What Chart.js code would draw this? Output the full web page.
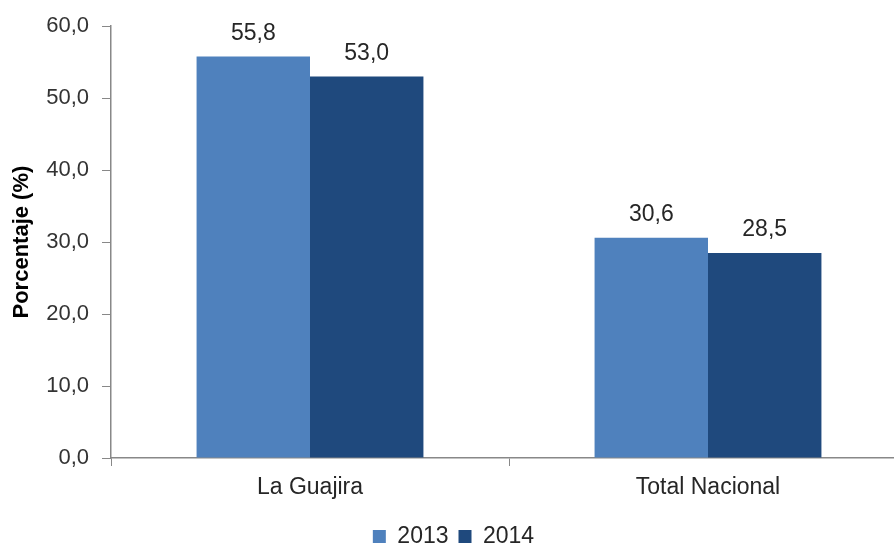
<!DOCTYPE html>
<html>
<head>
<meta charset="utf-8">
<script src="https://cdn.jsdelivr.net/npm/chart.js@4"></script>
<style>
  html, body { margin: 0; padding: 0; background: #fff; overflow: hidden; }
  #wrap { width: 910px; height: 544px; }
</style>
</head>
<body>
<div id="wrap"><canvas id="chart"></canvas></div>
<script>
const categories = ['La Guajira', 'Total Nacional'];
const years = ['2013', '2014'];
const values2013 = [55.8, 30.6];
const values2014 = [53.0, 28.5];
const yTicks = [0, 10, 20, 30, 40, 50, 60];

const fmt = v => v.toFixed(1).replace('.', ',');

// draws the value above each bar
const barLabels = {
  id: 'barLabels',
  afterDatasetsDraw(chart) {
    const ctx = chart.ctx;
    ctx.save();
    ctx.font = '23px "Liberation Sans", Arial, sans-serif';
    ctx.fillStyle = '#262626';
    ctx.textAlign = 'center';
    ctx.textBaseline = 'middle';
    chart.data.datasets.forEach((ds, i) => {
      chart.getDatasetMeta(i).data.forEach((bar, j) => {
        ctx.fillText(fmt(ds.data[j]), bar.x, bar.y - 23);
      });
    });
    ctx.restore();
  }
};

Chart.defaults.font.family = '"Liberation Sans", Arial, sans-serif';
Chart.defaults.color = '#333';

new Chart(document.getElementById('chart'), {
  type: 'bar',
  data: {
    labels: categories,
    datasets: [
      { label: years[0], data: values2013, backgroundColor: '#4F81BD' },
      { label: years[1], data: values2014, backgroundColor: '#1F497D' }
    ]
  },
  options: {
    responsive: true,
    maintainAspectRatio: false,
    animation: false,
    layout: { padding: { top: 25, right: 3, bottom: -14, left: 0 } },
    datasets: { bar: { categoryPercentage: 0.57, barPercentage: 1.0 } },
    scales: {
      x: {
        afterFit: axis => { axis.height = 57; },
        grid: { offset: true, drawOnChartArea: false, tickLength: 8, color: '#888' },
        border: { color: '#888', width: 1.5 },
        ticks: { font: { size: 23 }, color: '#262626', padding: 8 }
      },
      y: {
        min: 0,
        max: 60,
        afterBuildTicks: axis => { axis.ticks = yTicks.map(v => ({ value: v })); },
        afterFit: axis => { axis.width = 111; },
        grid: { drawOnChartArea: false, tickLength: 9, color: '#888' },
        border: { color: '#888', width: 1.5 },
        ticks: { font: { size: 22 }, color: '#333', padding: 13, callback: v => fmt(v) },
        title: {
          display: true,
          text: 'Porcentaje (%)',
          font: { size: 22, weight: 'bold' },
          color: '#000',
          padding: { top: 9, bottom: 0 }
        }
      }
    },
    plugins: {
      legend: {
        position: 'bottom',
        labels: { boxWidth: 13, boxHeight: 13, font: { size: 23 }, color: '#262626', padding: 10 }
      },
      tooltip: { enabled: false }
    }
  },
  plugins: [barLabels]
});
</script>
</body>
</html>
